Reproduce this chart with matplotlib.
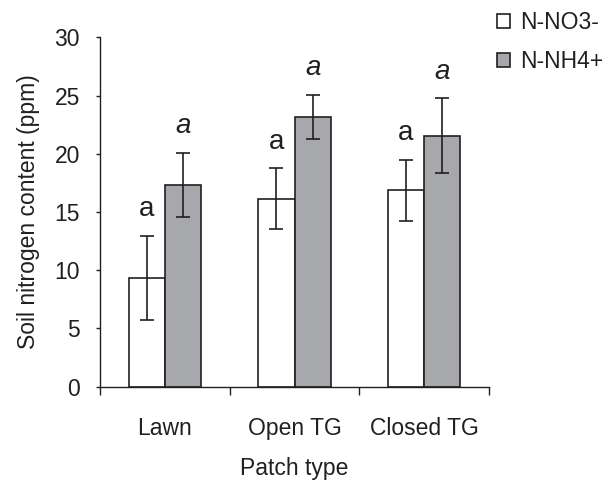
import matplotlib
matplotlib.use("Agg")
import matplotlib.pyplot as plt
import numpy as np

plt.rcParams['font.family'] = ['Liberation Sans', 'DejaVu Sans']

categories = ["Lawn", "Open TG", "Closed TG"]
series_names = ["N-NO3-", "N-NH4+"]
no3_values = [9.35, 16.15, 16.85]
no3_errors = [3.6, 2.6, 2.65]
nh4_values = [17.35, 23.15, 21.55]
nh4_errors = [2.75, 1.9, 3.2]
no3_letters = ["a", "a", "a"]
nh4_letters = ["a", "a", "a"]
y_ticks = [0, 5, 10, 15, 20, 25, 30]

txt = '#231f20'
fs = 16.5
fig = plt.figure(figsize=(6.13, 4.8), dpi=100)
ax = fig.add_axes([100/613, 1-386.7/480, 389/613, 349.4/480])

x = np.arange(len(categories))
w = 0.28
ekw = dict(elinewidth=1.2, capthick=1.2, ecolor=txt)
ax.bar(x - w/2, no3_values, w, color='white', edgecolor=txt, linewidth=1.2,
       yerr=no3_errors, capsize=5, error_kw=ekw, label=series_names[0], zorder=2)
ax.bar(x + w/2, nh4_values, w, color='#a7a8ac', edgecolor=txt, linewidth=1.2,
       yerr=nh4_errors, capsize=5, error_kw=ekw, label=series_names[1], zorder=2)

for i in range(len(categories)):
    ax.text(x[i] - w/2, no3_values[i] + no3_errors[i] + 2.3, no3_letters[i],
            ha='center', va='center', fontsize=20, color=txt)
    ax.text(x[i] + w/2, nh4_values[i] + nh4_errors[i] + 2.3, nh4_letters[i],
            ha='center', va='center', fontsize=20, color=txt, style='italic')

ax.set_xlim(-0.5, 2.5)
ax.set_ylim(0, 30)
ax.set_yticks(y_ticks)
ax.set_yticklabels([str(t) for t in y_ticks])
ax.set_xticks([-0.5, 0.5, 1.5, 2.5])
ax.set_xticklabels([])
ax.set_xticks(x, minor=True)
ax.set_xticklabels(categories, minor=True)
ax.tick_params(axis='x', which='minor', length=0, pad=22, labelsize=fs, labelcolor=txt)
ax.tick_params(axis='x', which='major', length=6, width=1, color=txt, direction='out')
ax.tick_params(axis='y', length=3, width=1, color=txt, labelsize=fs, labelcolor=txt, pad=11.5)
for s in ['top', 'right']:
    ax.spines[s].set_visible(False)
for s in ['left', 'bottom']:
    ax.spines[s].set_color(txt)
    ax.spines[s].set_linewidth(1)

ax.set_ylabel("Soil nitrogen content (ppm)", fontsize=fs, color=txt)
ax.yaxis.set_label_coords(-0.153, 0.5)
ax.set_xlabel("Patch type", fontsize=fs, color=txt)
ax.xaxis.set_label_coords(0.5, -0.200)

fig.legend(loc='upper left', bbox_to_anchor=(497/613, 1 - 11/480), frameon=False,
           handlelength=0.57, handleheight=0.57, handletextpad=0.44,
           labelspacing=0.7, borderpad=0, borderaxespad=0,
           fontsize=fs, labelcolor=txt)

fig.savefig("out.png", dpi=100)
